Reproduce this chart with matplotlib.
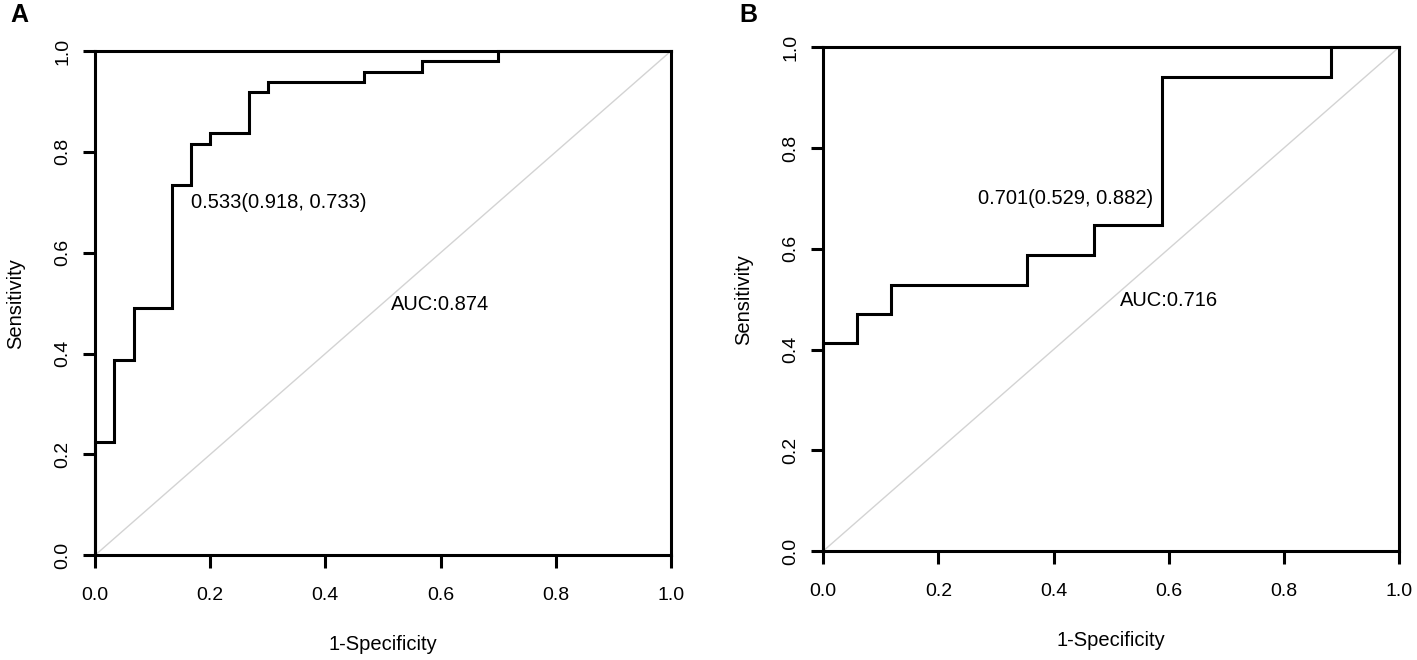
import matplotlib
matplotlib.use("Agg")
import matplotlib.pyplot as plt

plt.rcParams['font.family'] = ['Liberation Sans', 'DejaVu Sans']

# panel A: 49 positives, 30 negatives
fpr_a = [0.0, 0.0, 0.033, 0.067, 0.133, 0.167, 0.200, 0.267, 0.300, 0.467, 0.567, 0.700, 1.0]
tpr_a = [0.0, 0.224, 0.388, 0.490, 0.735, 0.816, 0.837, 0.918, 0.939, 0.959, 0.980, 1.0, 1.0]
thr_a = "0.533(0.918, 0.733)"
auc_a = "AUC:0.874"

# panel B: 17 positives, 17 negatives
fpr_b = [0.0, 0.0, 0.059, 0.118, 0.353, 0.471, 0.588, 0.882, 1.0]
tpr_b = [0.0, 0.412, 0.471, 0.529, 0.588, 0.647, 0.941, 1.0, 1.0]
thr_b = "0.701(0.529, 0.882)"
auc_b = "AUC:0.716"

ticks = [0.0, 0.2, 0.4, 0.6, 0.8, 1.0]
tick_labels = ["0.0", "0.2", "0.4", "0.6", "0.8", "1.0"]

fig = plt.figure(figsize=(14.17, 6.6), dpi=100)
ax_a = fig.add_axes([0.0670, 0.1586, 0.4065, 0.7641])
ax_b = fig.add_axes([0.5810, 0.1652, 0.4063, 0.7631])


def roc_panel(ax, fpr, tpr, thr_text, thr_pos, auc_text, auc_pos):
    ax.plot([0, 1], [0, 1], color="#d3d3d3", lw=1.0, zorder=1)
    ax.plot(fpr, tpr, color="black", lw=2.2, drawstyle="steps-post",
            solid_joinstyle="miter", zorder=3, clip_on=False)
    ax.text(thr_pos[0], thr_pos[1], thr_text, ha="center", va="center", fontsize=14.5)
    ax.text(auc_pos[0], auc_pos[1], auc_text, ha="center", va="center", fontsize=14.5)
    ax.set_xlim(0, 1)
    ax.set_ylim(0, 1)
    ax.set_xticks(ticks)
    ax.set_xticklabels(tick_labels)
    ax.set_yticks(ticks)
    ax.set_yticklabels(tick_labels, rotation=90, va="center")
    ax.tick_params(direction="out", length=9, width=2.2, labelsize=14)
    ax.tick_params(axis="x", pad=14)
    ax.tick_params(axis="y", pad=8)
    for s in ax.spines.values():
        s.set_linewidth(2.2)
    ax.set_xlabel("1-Specificity", fontsize=14.5)
    ax.set_ylabel("Sensitivity", fontsize=14.5)
    ax.xaxis.set_label_coords(0.5, -0.158)
    ax.yaxis.set_label_coords(-0.122, 0.5)


roc_panel(ax_a, fpr_a, tpr_a, thr_a, (0.319, 0.70), auc_a, (0.60, 0.497))
roc_panel(ax_b, fpr_b, tpr_b, thr_b, (0.420, 0.70), auc_b, (0.60, 0.498))

fig.text(0.007, 0.977, "A", fontsize=18, fontweight="bold", va="center")
fig.text(0.522, 0.977, "B", fontsize=18, fontweight="bold", va="center")

fig.savefig("out.png", dpi=100)
